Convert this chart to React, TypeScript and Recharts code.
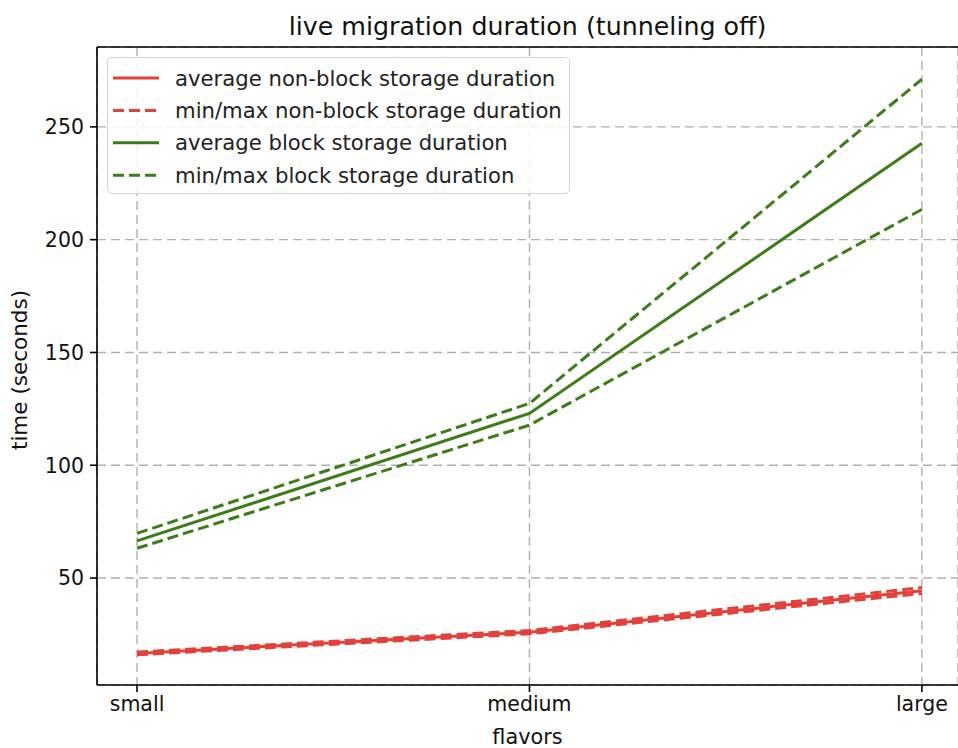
import React from 'react';
import { LineChart, Line, XAxis, YAxis, CartesianGrid, Legend, ReferenceLine, Label } from 'recharts';

const categories = ['small', 'medium', 'large'];
const nonBlockAvg = [16.6, 26.0, 44.4];
const nonBlockMin = [16.0, 25.3, 43.2];
const nonBlockMax = [17.2, 26.8, 45.8];
const blockAvg = [66.5, 123.0, 242.7];
const blockMin = [63.2, 117.8, 213.4];
const blockMax = [69.8, 127.4, 271.1];
const yTicks = [50, 100, 150, 200, 250];

const legendItems = [
  { label: 'average non-block storage duration', color: '#e4403a', dashed: false },
  { label: 'min/max non-block storage duration', color: '#e4403a', dashed: true },
  { label: 'average block storage duration', color: '#3b7d16', dashed: false },
  { label: 'min/max block storage duration', color: '#3b7d16', dashed: true },
];

const data = categories.map((c, i) => ({
  x: i,
  name: c,
  nbAvg: nonBlockAvg[i],
  nbMin: nonBlockMin[i],
  nbMax: nonBlockMax[i],
  bAvg: blockAvg[i],
  bMin: blockMin[i],
  bMax: blockMax[i],
}));

const FONT = '"DejaVu Sans", sans-serif';
const RED = '#e4403a';
const GREEN = '#3b7d16';
const Y_MIN = 2.6;
const Y_MAX = 285.4;
const DASH = '11 5';

const LegendBox = () => (
  <div
    style={{
      width: 463,
      height: 137,
      border: '1.5px solid #d6d6d6',
      borderRadius: 5,
      background: 'rgba(255,255,255,0.85)',
      boxSizing: 'border-box',
    }}
  >
    <svg width={460} height={134}>
      {legendItems.map((it, i) => {
        const cy = 20 + i * 32.4;
        return (
          <g key={it.label}>
            <line
              x1={5}
              x2={51}
              y1={cy}
              y2={cy}
              stroke={it.color}
              strokeWidth={3}
              strokeDasharray={it.dashed ? '11 5' : undefined}
            />
            <text x={67} y={cy} dy="0.36em" fontSize={21.2} fontFamily={FONT} fill="#222">
              {it.label}
            </text>
          </g>
        );
      })}
    </svg>
  </div>
);

export default function App() {
  return (
    <div style={{ position: 'absolute', left: 0, top: 0, width: 958, height: 748, background: '#fff' }}>
      <div
        style={{
          position: 'absolute',
          left: 97,
          width: 861,
          top: 12,
          textAlign: 'center',
          fontFamily: FONT,
          fontSize: 25.3,
          color: '#111',
          lineHeight: '30px',
        }}
      >
        live migration duration (tunneling off)
      </div>
      <LineChart width={958} height={748} data={data} margin={{ top: 47, right: 0, bottom: 0, left: 0 }}>
        <CartesianGrid stroke="#b0b0b0" strokeDasharray="9 5" strokeWidth={1.4} />
        <XAxis
          dataKey="x"
          type="number"
          domain={[-0.102, 2.092]}
          ticks={[0, 1, 2]}
          allowDataOverflow
          tickFormatter={(v) => categories[v] ?? ''}
          height={63}
          stroke="#000"
          strokeWidth={1.6}
          tickSize={7}
          tickMargin={4}
          tick={{ fontSize: 20.5, fontFamily: FONT, fill: '#111' }}
        >
          <Label
            content={(props: any) => {
              const vb = props.viewBox || {};
              return (
                <text
                  x={vb.x + vb.width / 2}
                  y={744}
                  textAnchor="middle"
                  fontSize={20.8}
                  fontFamily={FONT}
                  fill="#111"
                >
                  flavors
                </text>
              );
            }}
          />
        </XAxis>
        <YAxis
          type="number"
          domain={[Y_MIN, Y_MAX]}
          ticks={yTicks}
          allowDataOverflow
          width={97}
          stroke="#000"
          strokeWidth={1.6}
          tickSize={7}
          tickMargin={6}
          tick={{ fontSize: 20.5, fontFamily: FONT, fill: '#111' }}
        >
          <Label
            content={(props: any) => {
              const vb = props.viewBox || {};
              const cy = vb.y + vb.height / 2 + 4;
              return (
                <text
                  x={27}
                  y={cy}
                  transform={`rotate(-90, 27, ${cy})`}
                  textAnchor="middle"
                  fontSize={21.5}
                  fontFamily={FONT}
                  fill="#111"
                >
                  time (seconds)
                </text>
              );
            }}
          />
        </YAxis>
        <ReferenceLine y={Y_MAX} stroke="#000" strokeWidth={1.6} />
        <Line dataKey="nbAvg" stroke={RED} strokeWidth={3} dot={false} isAnimationActive={false} />
        <Line dataKey="nbMin" stroke={RED} strokeWidth={3} strokeDasharray={DASH} dot={false} isAnimationActive={false} />
        <Line dataKey="nbMax" stroke={RED} strokeWidth={3} strokeDasharray={DASH} dot={false} isAnimationActive={false} />
        <Line dataKey="bAvg" stroke={GREEN} strokeWidth={3} dot={false} isAnimationActive={false} />
        <Line dataKey="bMin" stroke={GREEN} strokeWidth={3} strokeDasharray={DASH} dot={false} isAnimationActive={false} />
        <Line dataKey="bMax" stroke={GREEN} strokeWidth={3} strokeDasharray={DASH} dot={false} isAnimationActive={false} />
        <Legend
          layout="horizontal"
          verticalAlign="middle"
          align="center"
          content={() => <LegendBox />}
          wrapperStyle={{ position: 'absolute', left: 107, top: 57, width: 463, height: 137 }}
        />
      </LineChart>
    </div>
  );
}
